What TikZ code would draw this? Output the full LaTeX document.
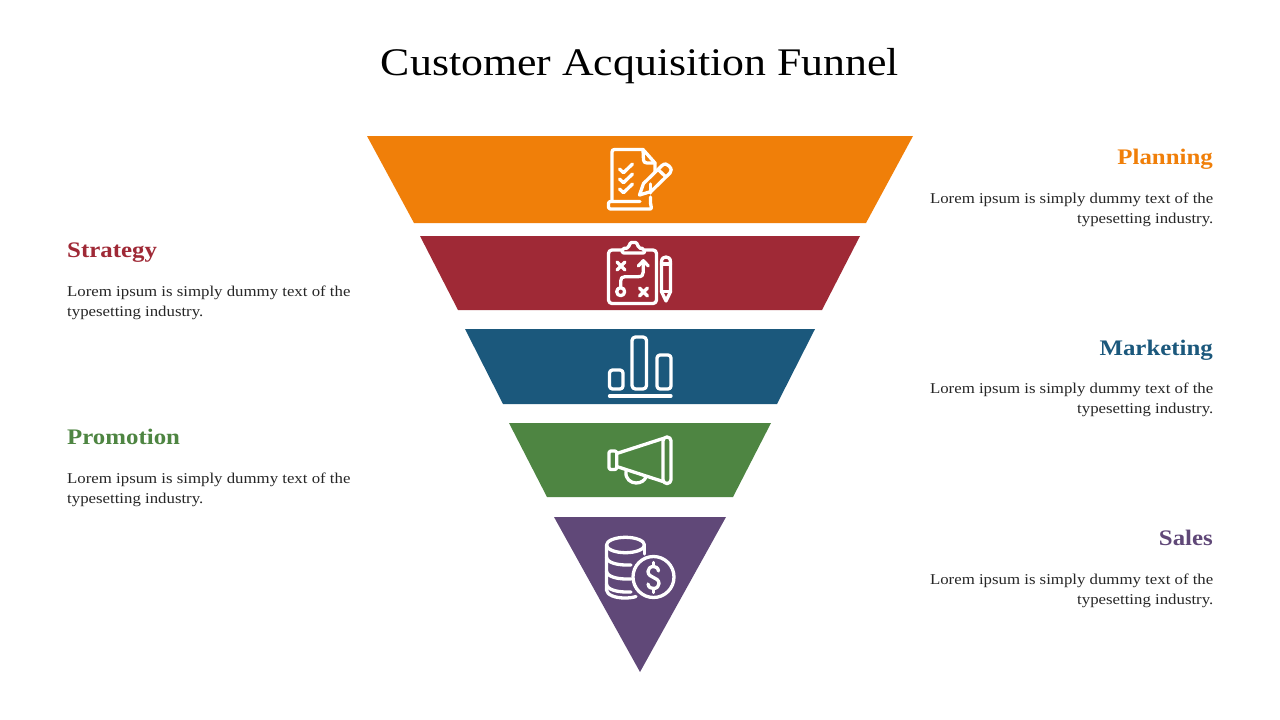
\documentclass[tikz,border=0pt]{standalone}
\usepackage{fontspec}
\setmainfont[FakeStretch=1.12]{Liberation Serif}
\definecolor{cOrange}{HTML}{F07F09}
\definecolor{cRed}{HTML}{9F2936}
\definecolor{cBlue}{HTML}{1B587C}
\definecolor{cGreen}{HTML}{4E8542}
\definecolor{cPurple}{HTML}{604878}
\definecolor{cBody}{HTML}{262626}
\tikzset{
  titletext/.style={inner sep=0pt,anchor=base,font=\fontsize{39.1}{44}\selectfont,text=black},
  headr/.style={inner sep=0pt,anchor=base east,font=\fontsize{22.2}{24}\selectfont\bfseries},
  headl/.style={inner sep=0pt,anchor=base west,font=\fontsize{22.2}{24}\selectfont\bfseries},
  bodyr/.style={inner sep=0pt,anchor=north east,align=right,text=cBody,font=\fontsize{15}{20}\selectfont},
  bodyl/.style={inner sep=0pt,anchor=north west,align=left,text=cBody,font=\fontsize{15}{20}\selectfont},
  icon/.style={draw=white,line width=3.3pt,line cap=round,line join=round},
}
\begin{document}
\begin{tikzpicture}[x=1pt,y=-1pt]
\useasboundingbox (0,0) rectangle (1280,720);
\fill[white] (0,0) rectangle (1280,720);
\node[titletext] (title) at (640,75) {Customer Acquisition Funnel};
% funnel
\fill[cOrange] (367,136) -- (913,136) -- (866,223) -- (414,223) -- cycle;
\fill[cRed] (420,236) -- (860,236) -- (822,310) -- (458,310) -- cycle;
\fill[cBlue] (465,329) -- (815,329) -- (777,404) -- (503,404) -- cycle;
\fill[cGreen] (509,423) -- (771,423) -- (733,497) -- (547,497) -- cycle;
\fill[cPurple] (554,517) -- (726,517) -- (640,672) -- cycle;
% labels
\node[headr,text=cOrange] (h1) at (1213,164) {Planning};
\node[bodyr] (b1) at (1213.5,193) {Lorem ipsum is simply dummy text of the\\typesetting industry.};
\node[headl,text=cRed] (h2) at (67,257) {Strategy};
\node[bodyl] (b2) at (67,286) {Lorem ipsum is simply dummy text of the\\typesetting industry.};
\node[headr,text=cBlue] (h3) at (1213,355) {Marketing};
\node[bodyr] (b3) at (1213.5,383) {Lorem ipsum is simply dummy text of the\\typesetting industry.};
\node[headl,text=cGreen] (h4) at (67,444) {Promotion};
\node[bodyl] (b4) at (67,473) {Lorem ipsum is simply dummy text of the\\typesetting industry.};
\node[headr,text=cPurple] (h5) at (1213,545) {Sales};
\node[bodyr] (b5) at (1213.5,574) {Lorem ipsum is simply dummy text of the\\typesetting industry.};
% icon 1: checklist and pencil
\draw[icon] (650.5,193) -- (650.5,184);
\draw[icon] (612,200) -- (612,152) .. controls (612,150) and (613,149.5) .. (615,149.5) -- (643,149.5) -- (655,163) -- (655,172);
\draw[icon] (643,149.5) -- (643.5,160) .. controls (643.5,162) and (645,163) .. (647,163) -- (655,163);
\draw[icon,rounded corners=2pt] (640,201.5) -- (608.5,201.5) -- (608.5,209) -- (652,209) -- (650.5,205) -- (650.5,197);
\foreach \yy in {0,10,20} {\draw[icon] (619.5,169+\yy) -- (623.5,172.7+\yy) -- (632.5,164+\yy);}
\draw[icon] (639.5,195) -- (643.5,183.5) -- (662,165.5) .. controls (665,163) and (667,164) .. (669,166) .. controls (672,169) and (671.5,171) .. (670,173) -- (651,191.5) -- cycle;
\draw[icon] (658,169.5) -- (666,177);
% icon 2: clipboard and pencil
\draw[icon,rounded corners=3.5pt] (622,250) -- (608.5,250) -- (608.5,303.5) -- (656.5,303.5) -- (656.5,250) -- (645,250);
\draw[icon,rounded corners=2pt] (622,253) -- (622,248.5) -- (629,248) .. controls (629,244) and (631,242.5) .. (633.5,242.5) .. controls (636,242.5) and (638,244) .. (638,248) -- (644,248.5) -- (645,253) -- cycle;
\draw[icon] (617,262) -- (625,270) (625,262) -- (617,270);
\draw[icon] (639.5,288) -- (647.5,296) (647.5,288) -- (639.5,296);
\draw[icon] (620.7,291.7) circle[radius=4];
\draw[icon] (620.7,287.5) -- (620.7,281) .. controls (620.7,278) and (622,276.7) .. (625,276.7) -- (638,276.7) .. controls (642,276.7) and (643.3,275) .. (643.3,272) -- (643.3,261);
\draw[icon] (638.3,266) -- (643.3,260.7) -- (648.3,266);
\draw[icon] (661.5,291.7) -- (661.5,262) .. controls (661.5,258) and (664,257) .. (666,257) .. controls (668,257) and (670.5,258) .. (670.5,262) -- (670.5,291.7) -- (666,301) -- cycle;
\draw[icon] (661.5,264) -- (670.5,264);
\draw[icon] (661.5,291.7) -- (670.5,291.7);
% icon 3: bars
\draw[icon,rounded corners=3pt] (609.5,370) rectangle (623,389);
\draw[icon,rounded corners=3.5pt] (632,337) rectangle (646.5,389);
\draw[icon,rounded corners=3pt] (657,355) rectangle (671,389);
\draw[icon] (609.5,396) -- (671,396);
% icon 4: megaphone
\draw[icon,rounded corners=2pt] (616.7,451) -- (609,451) -- (609,469.5) -- (616.7,469.5) -- cycle;
\draw[icon] (616.7,453.5) -- (663,438.5);
\draw[icon] (616.7,466.5) -- (663,481.5);
\draw[icon,rounded corners=3.8pt] (663,437) rectangle (671,483.5);
\draw[icon] (626,471.5) .. controls (625,479) and (631,483) .. (636,483) .. controls (641,483) and (645,480.5) .. (646,476.5);
% icon 5: coins
\draw[icon] (625.5,545) ellipse[x radius=19,y radius=7.7];
\draw[icon] (606.5,545) -- (606.5,590) .. controls (607,595) and (615,598) .. (625,598) .. controls (629,598) and (633,597.5) .. (636,596.5);
\draw[icon] (644.5,545) -- (644.5,554);
\draw[icon] (606.5,557) .. controls (607,563) and (618,565.5) .. (631,565);
\draw[icon] (606.5,571) .. controls (607,577) and (618,579.5) .. (631,579);
\draw[icon] (606.5,584) .. controls (607,590) and (618,592.5) .. (631,592);
\draw[icon] (653.5,577) circle[radius=20.5];
\draw[icon] (658.5,571) .. controls (658,567.5) and (655.5,566.5) .. (653.5,566.5) .. controls (650,566.5) and (648,569) .. (648,571.5) .. controls (648,575) and (651,576.5) .. (653.5,577.5) .. controls (656,578.5) and (659,580) .. (659,583.5) .. controls (659,586) and (657,588.5) .. (653.5,588.5) .. controls (651,588.5) and (648.5,587.5) .. (648,584);
\draw[icon] (653.5,562.5) -- (653.5,566.5) (653.5,588.5) -- (653.5,592.5);
\end{tikzpicture}
\end{document}
